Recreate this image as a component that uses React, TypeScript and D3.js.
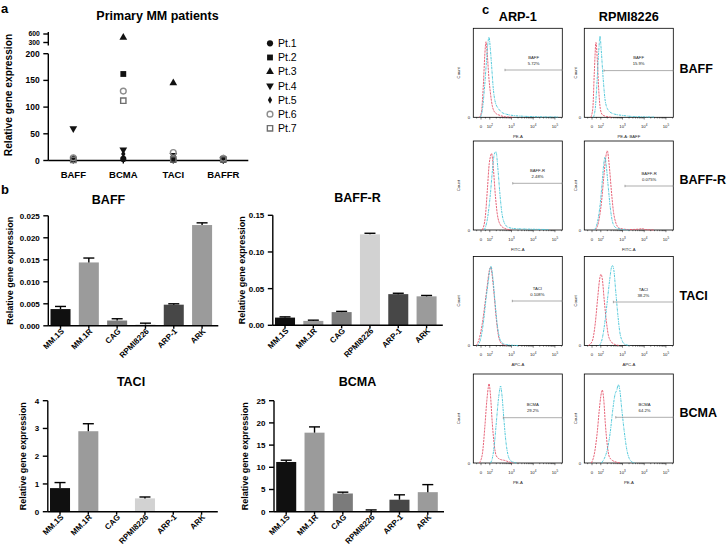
import * as d3 from 'd3';

const FONT = '"Liberation Sans", Arial, Helvetica, sans-serif';

// ---------- panel a: primary MM patients ----------
const receptorGenes = ['BAFF', 'BCMA', 'TACI', 'BAFFR'];
const patientNames = ['Pt.1', 'Pt.2', 'Pt.3', 'Pt.4', 'Pt.5', 'Pt.6', 'Pt.7'];
const pt1 = [2, 3, 2, 1];
const pt2 = [1, 162, 1, 1];
const pt3 = [3, 480, 145, 3];
const pt4 = [60, 20, 10, 2];
const pt5 = [4, 12, 3, 3];
const pt6 = [5, 130, 15, 4];
const pt7 = [1, 112, 2, 2];
const lowTicks = [0, 50, 100, 150, 200];
const highTicks = [300, 600];

// ---------- panel b: cell lines ----------
const cellLines = ['MM.1S', 'MM.1R', 'CAG', 'RPMI8226', 'ARP-1', 'ARK'];
const baffMean = [0.0038, 0.0144, 0.0012, 0.0003, 0.0048, 0.0229];
const baffErr = [0.0006, 0.001, 0.0004, 0.0003, 0.0002, 0.0005];
const baffrMean = [0.0105, 0.006, 0.018, 0.124, 0.0425, 0.0395];
const baffrErr = [0.001, 0.001, 0.001, 0.0015, 0.0012, 0.0012];
const taciMean = [0.85, 2.9, 0, 0.48, 0, 0];
const taciErr = [0.2, 0.27, 0, 0.05, 0, 0];
const bcmaMean = [11.2, 17.8, 4.1, 0.1, 2.7, 4.4];
const bcmaErr = [0.4, 1.3, 0.3, 0.3, 1.1, 1.7];
const baffTicks = [0, 0.005, 0.01, 0.015, 0.02, 0.025];
const baffrTicks = [0, 0.05, 0.1, 0.15];
const taciTicks = [0, 1, 2, 3, 4];
const bcmaTicks = [0, 5, 10, 15, 20, 25];

// ---------- panel c: flow cytometry ----------
const flowCells = ['ARP-1', 'RPMI8226'];
const flowMarkers = ['BAFF', 'BAFF-R', 'TACI', 'BCMA'];
const arpChannels = ['PE-A', 'FITC-A', 'APC-A', 'PE-A'];
const rpmiChannels = ['PE-A: BAFF', 'FITC-A', 'APC-A', 'PE-A'];
const arpGatePct = ['5.72%', '2.48%', '0.108%', '29.2%'];
const rpmiGatePct = ['15.9%', '0.075%', '38.2%', '64.2%'];
const arpGateFrom = [500, 1140, 1090, 420];
const rpmiGateFrom = [140, 1300, 380, 490];
const flowTicks = [0, 100, 1000, 10000, 100000];

// [fluorescence, fraction of modal count]
const arpBaffIso = [[-19, 0], [3, 0.05], [26, 0.35], [43, 0.7], [57, 0.85], [72, 0.7], [89, 0.45], [106, 0.28], [130, 0.13], [179, 0.05], [305, 0.02], [518, 0.005], [1213, 0]];
const arpBaffStain = [[-8, 0], [15, 0.08], [37, 0.3], [60, 0.6], [77, 0.82], [91, 0.9], [105, 0.78], [121, 0.58], [145, 0.32], [179, 0.17], [246, 0.1], [339, 0.06], [575, 0.035], [1213, 0.02], [3475, 0.012], [17000, 0.006], [144000, 0.003]];
const rpmiBaffIso = [[-14, 0], [9, 0.1], [26, 0.5], [45, 0.84], [60, 0.65], [77, 0.3], [94, 0.1], [117, 0.03], [179, 0.01], [339, 0]];
const rpmiBaffStain = [[15, 0], [37, 0.1], [60, 0.45], [77, 0.75], [91, 0.91], [105, 0.75], [130, 0.42], [161, 0.18], [221, 0.08], [377, 0.04], [1088, 0.02], [3475, 0.008], [28550, 0.003]];
const arpBaffrIso = [[15, 0], [49, 0.15], [72, 0.45], [94, 0.75], [106, 0.82], [121, 0.86], [145, 0.7], [179, 0.4], [221, 0.18], [305, 0.06], [466, 0.02], [979, 0]];
const arpBaffrStain = [[37, 0], [72, 0.12], [106, 0.4], [130, 0.65], [161, 0.85], [193, 0.88], [234, 0.7], [289, 0.42], [357, 0.2], [466, 0.08], [710, 0.03], [1496, 0.015], [5882, 0.01], [49600, 0.005]];
const rpmiBaffrIso = [[37, 0], [72, 0.08], [106, 0.3], [138, 0.6], [170, 0.82], [199, 0.89], [246, 0.72], [305, 0.45], [377, 0.22], [493, 0.08], [710, 0.02], [2052, 0.005], [5882, 0.01], [8170, 0.015], [11250, 0.005], [28550, 0]];
const rpmiBaffrStain = [[26, 0], [60, 0.08], [94, 0.3], [117, 0.55], [138, 0.75], [156, 0.82], [179, 0.72], [221, 0.48], [274, 0.25], [339, 0.1], [466, 0.03], [792, 0.01], [2052, 0]];
const arpTaciIso = [[-53, 0], [-19, 0.08], [15, 0.25], [49, 0.5], [72, 0.68], [94, 0.84], [112, 0.88], [130, 0.78], [161, 0.55], [199, 0.3], [246, 0.12], [305, 0.04], [419, 0.01], [640, 0]];
const arpTaciStain = [[-42, 0], [-8, 0.06], [26, 0.25], [60, 0.55], [83, 0.72], [100, 0.85], [114, 0.89], [138, 0.76], [170, 0.52], [210, 0.28], [260, 0.12], [320, 0.05], [466, 0.015], [792, 0.005], [2052, 0]];
const rpmiTaciIso = [[-42, 0], [3, 0.05], [37, 0.25], [66, 0.55], [89, 0.76], [102, 0.8], [117, 0.75], [145, 0.5], [179, 0.28], [221, 0.12], [305, 0.04], [466, 0.01], [710, 0]];
const rpmiTaciStain = [[83, 0], [117, 0.08], [161, 0.3], [210, 0.55], [260, 0.75], [305, 0.87], [339, 0.9], [397, 0.85], [491, 0.6], [607, 0.35], [751, 0.15], [979, 0.05], [1346, 0.01], [2288, 0]];
const arpBcmaIso = [[-19, 0], [15, 0.1], [43, 0.4], [66, 0.7], [83, 0.85], [91, 0.89], [106, 0.78], [130, 0.45], [161, 0.2], [199, 0.08], [305, 0.04], [466, 0.03], [710, 0.015], [1213, 0]];
const arpBcmaStain = [[106, 0], [130, 0.05], [161, 0.2], [199, 0.45], [246, 0.7], [289, 0.83], [313, 0.865], [357, 0.78], [443, 0.5], [546, 0.25], [675, 0.1], [880, 0.03], [1213, 0.01], [1665, 0]];
const rpmiBcmaIso = [[-8, 0], [26, 0.1], [60, 0.35], [83, 0.6], [100, 0.75], [117, 0.82], [138, 0.7], [161, 0.45], [199, 0.2], [246, 0.07], [339, 0.03], [518, 0.01], [792, 0]];
const rpmiBcmaStain = [[106, 0], [145, 0.05], [199, 0.15], [274, 0.35], [357, 0.6], [451, 0.77], [546, 0.82], [640, 0.88], [751, 0.82], [929, 0.6], [1211, 0.35], [1578, 0.15], [2055, 0.05], [2830, 0.01], [3890, 0]];

const barShades = ['#101010', '#9b9b9b', '#7b7b7b', '#d2d2d2', '#474747', '#9b9b9b'];
const ISO = '#e4536a';
const STAIN = '#3fc3d6';

const patientMarks = [
  { type: d3.symbolCircle, size: 30, fill: '#111', stroke: 'none', rot: 0 },
  { type: d3.symbolSquare, size: 34, fill: '#111', stroke: 'none', rot: 0 },
  { type: d3.symbolTriangle, size: 26, fill: '#111', stroke: 'none', rot: 0 },
  { type: d3.symbolTriangle, size: 26, fill: '#111', stroke: 'none', rot: 180 },
  { type: d3.symbolDiamond, size: 16, fill: '#111', stroke: 'none', rot: 0 },
  { type: d3.symbolCircle, size: 26, fill: 'none', stroke: '#8d8d8d', rot: 0 },
  { type: d3.symbolSquare, size: 28, fill: 'none', stroke: '#6f6f6f', rot: 0 },
];

function Marker({ i, x, y }: { i: number; x: number; y: number }) {
  const m = patientMarks[i];
  const d = d3.symbol().type(m.type).size(m.size)() as string;
  return (
    <path
      d={d}
      transform={`translate(${x},${y}) rotate(${m.rot})`}
      fill={m.fill}
      stroke={m.stroke}
      strokeWidth={1.4}
    />
  );
}

function PanelA() {
  const patients = [pt1, pt2, pt3, pt4, pt5, pt6, pt7];
  const axisX = 48.3;
  const x = d3.scalePoint<string>().domain(receptorGenes).range([axisX, 248.3]).padding(0.5);
  const yLow = d3.scaleLinear().domain([0, 200]).range([160.5, 53.7]);
  const yHigh = d3.scaleLinear().domain([300, 600]).range([42.5, 34]);
  const yOf = (v: number) => (v > 250 ? yHigh(v) : yLow(v));
  return (
    <g>
      <text x={1} y={13} fontSize={13} fontWeight="bold">a</text>
      <text x={157.5} y={20} textAnchor="middle" fontSize={12.5} fontWeight="bold">Primary MM patients</text>
      <text transform="translate(11.7,95) rotate(-90)" textAnchor="middle" fontSize={10.2} fontWeight="bold">
        Relative gene expression
      </text>
      <g stroke="#000" strokeWidth={1.4}>
        <line x1={axisX} x2={axisX} y1={yLow(0)} y2={yLow(200)} />
        <line x1={axisX} x2={axisX} y1={45.5} y2={32} />
        <line x1={axisX} x2={248.3} y1={yLow(0)} y2={yLow(0)} />
        {lowTicks.map((t) => (
          <line key={t} x1={axisX - 5} x2={axisX} y1={yLow(t)} y2={yLow(t)} />
        ))}
        {highTicks.map((t) => (
          <line key={t} x1={axisX - 5} x2={axisX} y1={yHigh(t)} y2={yHigh(t)} />
        ))}
        {receptorGenes.map((g) => (
          <line key={g} x1={x(g)} x2={x(g)} y1={yLow(0)} y2={yLow(0) + 3} />
        ))}
      </g>
      <g fontSize={8.5} fontWeight="bold" textAnchor="end">
        {lowTicks.map((t) => (
          <text key={t} x={axisX - 8.5} y={yLow(t) + 3}>{t}</text>
        ))}
      </g>
      <g fontSize={6.8} fontWeight="bold" textAnchor="end">
        {highTicks.map((t) => (
          <text key={t} x={axisX - 8.5} y={yHigh(t) + 2.4}>{t}</text>
        ))}
      </g>
      <g fontSize={9.5} fontWeight="bold" textAnchor="middle">
        {receptorGenes.map((g) => (
          <text key={g} x={x(g)} y={178}>{g}</text>
        ))}
      </g>
      {patients.map((vals, i) =>
        vals.map((v, j) => <Marker key={`${i}-${j}`} i={i} x={x(receptorGenes[j]) as number} y={yOf(v)} />)
      )}
      {patientNames.map((n, i) => (
        <g key={n}>
          <Marker i={i} x={270} y={43.3 + i * 14.17} />
          <text x={278} y={43.3 + i * 14.17 + 3.7} fontSize={10.5}>{n}</text>
        </g>
      ))}
    </g>
  );
}

type BarSpec = {
  title: string;
  mean: number[];
  err: number[];
  ticks: number[];
  fmt: string;
  axisX: number;
  y0: number;
  yTop: number;
  titleX: number;
  titleY: number;
  labelX: number;
};

function BarChart({ s }: { s: BarSpec }) {
  const max = s.ticks[s.ticks.length - 1];
  const y = d3.scaleLinear().domain([0, max]).range([s.y0, s.yTop]);
  const x = d3
    .scaleBand<string>()
    .domain(cellLines)
    .range([s.axisX, s.axisX + 166])
    .paddingInner(0.293)
    .paddingOuter(0.078);
  const f = d3.format(s.fmt);
  const bw = x.bandwidth();
  return (
    <g>
      <text x={s.titleX} y={s.titleY} textAnchor="middle" fontSize={12.5} fontWeight="bold">{s.title}</text>
      <text
        transform={`translate(${s.labelX},${(s.y0 + s.yTop) / 2}) rotate(-90)`}
        textAnchor="middle"
        fontSize={9}
        fontWeight="bold"
      >
        Relative gene expression
      </text>
      {cellLines.map((c, i) => (
        <rect key={c} x={x(c)} width={bw} y={y(s.mean[i])} height={s.y0 - y(s.mean[i])} fill={barShades[i]} />
      ))}
      <g stroke="#000" strokeWidth={1.4}>
        {cellLines.map((c, i) => {
          if (!s.err[i]) return null;
          const cx = (x(c) as number) + bw / 2;
          return (
            <g key={c}>
              <line x1={cx} x2={cx} y1={y(s.mean[i])} y2={y(s.mean[i] + s.err[i])} />
              <line x1={cx - 5.5} x2={cx + 5.5} y1={y(s.mean[i] + s.err[i])} y2={y(s.mean[i] + s.err[i])} />
            </g>
          );
        })}
        <line x1={s.axisX} x2={s.axisX} y1={s.y0} y2={s.yTop} />
        <line x1={s.axisX} x2={s.axisX + 170} y1={s.y0} y2={s.y0} />
        {s.ticks.map((t) => (
          <line key={t} x1={s.axisX - 5} x2={s.axisX} y1={y(t)} y2={y(t)} />
        ))}
        {cellLines.map((c) => (
          <line key={c} x1={(x(c) as number) + bw / 2} x2={(x(c) as number) + bw / 2} y1={s.y0} y2={s.y0 + 3} />
        ))}
      </g>
      <g fontSize={8} fontWeight="bold" textAnchor="end">
        {s.ticks.map((t) => (
          <text key={t} x={s.axisX - 8.5} y={y(t) + 2.9}>{f(t)}</text>
        ))}
        {cellLines.map((c) => (
          <text
            key={c}
            transform={`translate(${(x(c) as number) + bw / 2 + 4},${s.y0 + 6}) rotate(-45)`}
          >
            {c}
          </text>
        ))}
      </g>
    </g>
  );
}

function PanelB() {
  const specs: BarSpec[] = [
    { title: 'BAFF', mean: baffMean, err: baffErr, ticks: baffTicks, fmt: '.3f', axisX: 48.3, y0: 325.8, yTop: 215.8, titleX: 108.5, titleY: 204, labelX: 12.8 },
    { title: 'BAFF-R', mean: baffrMean, err: baffrErr, ticks: baffrTicks, fmt: '.2f', axisX: 272.8, y0: 325.3, yTop: 215.3, titleX: 357.5, titleY: 201.7, labelX: 245 },
    { title: 'TACI', mean: taciMean, err: taciErr, ticks: taciTicks, fmt: 'd', axisX: 47.8, y0: 511.7, yTop: 400.7, titleX: 131, titleY: 386, labelX: 26 },
    { title: 'BCMA', mean: bcmaMean, err: bcmaErr, ticks: bcmaTicks, fmt: 'd', axisX: 274, y0: 511.7, yTop: 400.7, titleX: 357.5, titleY: 386, labelX: 247.5 },
  ];
  return (
    <g>
      <text x={1} y={194} fontSize={13} fontWeight="bold">b</text>
      {specs.map((s) => (
        <BarChart key={s.title} s={s} />
      ))}
    </g>
  );
}

type FlowSpec = {
  left: number;
  top: number;
  iso: number[][];
  stain: number[][];
  gateFrom: number;
  gateDy: number;
  gateName: string;
  gatePct: string;
  axisName: string;
  countDx: number;
};

function FlowBox({ s }: { s: FlowSpec }) {
  const w = 89;
  const h = 89;
  const { left, top } = s;
  const lin = d3.scaleLinear().domain([-88, 100]).range([left, left + 16.5]);
  const lg = d3.scaleLog().domain([100, 219000]).range([left + 16.5, left + w]);
  const fx = (v: number) => (v < 100 ? lin(v) : lg(v));
  const fy = d3.scaleLinear().domain([0, 1]).range([top + h, top]);
  const line = d3
    .line<number[]>()
    .x((d) => fx(d[0]))
    .y((d) => fy(d[1]))
    .curve(d3.curveMonotoneX);
  const minors: number[] = [-50, 50];
  [100, 1000, 10000].forEach((b) => {
    for (let m = 2; m <= 9; m++) minors.push(b * m);
  });
  minors.push(200000);
  const bottom = top + h;
  const gy = top + s.gateDy;
  const gx0 = fx(s.gateFrom);
  const gx1 = left + w;
  const gm = (gx0 + gx1) / 2;
  return (
    <g>
      <rect x={left} y={top} width={w} height={h} fill="none" stroke="#000" strokeWidth={0.8} />
      <path d={line(s.iso) as string} fill="none" stroke={ISO} strokeWidth={0.9} strokeDasharray="2.2,0.9" />
      <path d={line(s.stain) as string} fill="none" stroke={STAIN} strokeWidth={0.9} strokeDasharray="2.4,0.8,0.8,0.8" />
      <g stroke="#000" strokeWidth={0.5}>
        {flowTicks.map((t) => (
          <line key={t} x1={fx(t)} x2={fx(t)} y1={bottom} y2={bottom + 2.2} />
        ))}
        {minors.map((t) => (
          <line key={t} x1={fx(t)} x2={fx(t)} y1={bottom} y2={bottom + 1.2} />
        ))}
      </g>
      <g stroke="#777" strokeWidth={0.6}>
        <line x1={gx0} x2={gx1} y1={gy} y2={gy} />
        <line x1={gx0} x2={gx0} y1={gy - 1.2} y2={gy + 1.2} />
        <line x1={gx1} x2={gx1} y1={gy - 1.2} y2={gy + 1.2} />
      </g>
      <g fontSize={4.2} textAnchor="middle" fill="#222">
        <text x={gm} y={gy - 11.5}>{s.gateName}</text>
        <text x={gm} y={gy - 5.5}>{s.gatePct}</text>
        {flowTicks.map((t) =>
          t === 0 ? (
            <text key={t} x={fx(t)} y={bottom + 10.5}>0</text>
          ) : (
            <text key={t} x={fx(t)} y={bottom + 10.5}>
              10<tspan fontSize={3} dy={-1.6}>{Math.round(Math.log10(t))}</tspan>
            </text>
          )
        )}
        <text x={left + w / 2} y={bottom + 20.5}>{s.axisName}</text>
        <text transform={`translate(${left - s.countDx},${top + h / 2}) rotate(-90)`}>Count</text>
        <text x={left - 4.5} y={bottom + 1.5}>0</text>
      </g>
    </g>
  );
}

function PanelC() {
  const colLeft = [473.3, 584.3];
  const rowTop = [28.3, 141, 256.5, 374];
  const gateDyArp = [41.7, 42.3, 44.5, 43.7];
  const gateDyRpmi = [42.3, 45, 45.5, 43.3];
  const isoCurves = [
    [arpBaffIso, arpBaffrIso, arpTaciIso, arpBcmaIso],
    [rpmiBaffIso, rpmiBaffrIso, rpmiTaciIso, rpmiBcmaIso],
  ];
  const stainCurves = [
    [arpBaffStain, arpBaffrStain, arpTaciStain, arpBcmaStain],
    [rpmiBaffStain, rpmiBaffrStain, rpmiTaciStain, rpmiBcmaStain],
  ];
  const boxes: FlowSpec[] = [];
  flowCells.forEach((cell, c) => {
    flowMarkers.forEach((mk, r) => {
      boxes.push({
        left: colLeft[c],
        top: rowTop[r],
        iso: isoCurves[c][r],
        stain: stainCurves[c][r],
        gateFrom: c === 0 ? arpGateFrom[r] : rpmiGateFrom[r],
        gateDy: c === 0 ? gateDyArp[r] : gateDyRpmi[r],
        gateName: mk,
        gatePct: c === 0 ? arpGatePct[r] : rpmiGatePct[r],
        axisName: c === 0 ? arpChannels[r] : rpmiChannels[r],
        countDx: c === 0 ? 13 : 7,
      });
    });
  });
  const rowBase = [73, 184, 300, 417];
  return (
    <g>
      <text x={482} y={14} fontSize={13} fontWeight="bold">c</text>
      {flowCells.map((cell, c) => (
        <text key={cell} x={colLeft[c] + 44.5} y={20.7} textAnchor="middle" fontSize={12.7} fontWeight="bold">
          {cell}
        </text>
      ))}
      {flowMarkers.map((mk, r) => (
        <text key={mk} x={679.5} y={rowBase[r]} fontSize={12.5} fontWeight="bold">{mk}</text>
      ))}
      {boxes.map((b, i) => (
        <FlowBox key={i} s={b} />
      ))}
    </g>
  );
}

export default function App() {
  return (
    <svg
      width={727}
      height={550}
      style={{ position: 'absolute', left: 0, top: 0, background: '#fff' }}
      fontFamily={FONT}
    >
      <rect width={727} height={550} fill="#fff" />
      <PanelA />
      <PanelB />
      <PanelC />
    </svg>
  );
}
